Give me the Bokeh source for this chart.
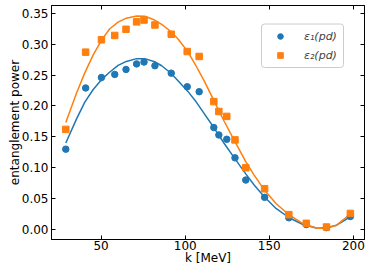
from bokeh.plotting import figure
from bokeh.models import (Range1d, LinearAxis, FixedTicker, NumeralTickFormatter, Legend,
                          LegendItem, BoxAnnotation)
from bokeh.embed import file_html
from bokeh.resources import INLINE

# measured points
k_data = [29.0, 40.8, 50.2, 58.1, 64.8, 71.1, 75.5, 82.0, 91.7, 101.2, 108.3,
          117.0, 120.0, 124.7, 129.6, 136.0, 147.2, 161.6, 172.0, 184.0, 198.2]
e1_data = [0.130, 0.229, 0.246, 0.251, 0.259, 0.268, 0.271, 0.265, 0.253, 0.231, 0.223,
           0.165, 0.153, 0.146, 0.116, 0.080, 0.052, 0.019, 0.008, 0.003, 0.021]
e2_data = [0.162, 0.287, 0.307, 0.314, 0.324, 0.336, 0.339, 0.331, 0.316, 0.288, 0.280,
           0.207, 0.191, 0.183, 0.145, 0.100, 0.066, 0.024, 0.010, 0.004, 0.026]

# fitted curves
k_fit = [29.0, 35.4, 40.3, 45.3, 50.2, 55.0, 60.1, 65.0, 71.1, 76.0, 81.8, 86.0, 91.7,
         96.0, 101.6, 106.0, 111.2, 117.0, 123.0, 129.4, 136.0, 141.0, 147.0, 154.0,
         161.8, 170.0, 178.4, 184.0, 190.0, 198.2]
e1_fit = [0.140, 0.179, 0.206, 0.2265, 0.2425, 0.2545, 0.2655, 0.272, 0.2765, 0.2765,
          0.2715, 0.265, 0.2525, 0.240, 0.2235, 0.2085, 0.188, 0.165, 0.140, 0.115,
          0.090, 0.072, 0.053, 0.034, 0.019, 0.008, 0.002, 0.003, 0.007, 0.0206]
e2_fit = [0.173, 0.221, 0.2535, 0.2825, 0.306, 0.3245, 0.3355, 0.342, 0.3455, 0.345,
          0.339, 0.332, 0.320, 0.3075, 0.2875, 0.267, 0.241, 0.209, 0.176, 0.143,
          0.110, 0.088, 0.064, 0.042, 0.0235, 0.0095, 0.002, 0.002, 0.007, 0.025]

legend_labels = ["ε₁(pd)", "ε₂(pd)"]
x_ticks = [50, 100, 150, 200]
y_ticks = [0.0, 0.05, 0.10, 0.15, 0.20, 0.25, 0.30, 0.35]

BLUE = "#1f77b4"
ORANGE = "#ff7f0e"
FONT = "DejaVu Sans"

p = figure(frame_width=313, frame_height=234,
           x_range=Range1d(20.5, 206.6), y_range=Range1d(-0.0162, 0.3625),
           output_backend="svg", toolbar_location=None,
           min_border_left=48, min_border_right=7, min_border_top=0, min_border_bottom=29)
p.margin = (5, 0, 0, 3)
p.grid.visible = False
p.outline_line_color = "black"
p.outline_line_width = 1
p.background_fill_color = "white"
p.border_fill_color = "white"


def style_axis(ax, ticks, show_labels):
    ax.ticker = FixedTicker(ticks=ticks)
    ax.major_tick_in = 4
    ax.major_tick_out = 0
    ax.minor_tick_in = 0
    ax.minor_tick_out = 0
    ax.major_tick_line_color = "black"
    ax.axis_line_color = "black"
    ax.major_label_text_font = FONT
    if show_labels:
        ax.major_label_text_color = "black"
        ax.major_label_text_font_size = "12px"
        ax.major_label_standoff = 3
    else:
        ax.major_label_text_color = None
        ax.major_label_text_font_size = "1px"
        ax.major_label_standoff = 0


xa = p.xaxis[0]
ya = p.yaxis[0]
style_axis(xa, x_ticks, True)
style_axis(ya, y_ticks, True)
xa.major_label_standoff = 1
ya.formatter = NumeralTickFormatter(format="0.00")
xa.axis_label = "k [MeV]"
ya.axis_label = "entanglement power"
for ax in (xa, ya):
    ax.axis_label_text_font = FONT
    ax.axis_label_text_font_size = "12px"
    ax.axis_label_text_font_style = "normal"
    ax.axis_label_text_color = "black"
xa.axis_label_standoff = -2
ya.axis_label_standoff = -3

top = LinearAxis()
right = LinearAxis()
style_axis(top, x_ticks, False)
style_axis(right, y_ticks, False)
p.add_layout(top, "above")
p.add_layout(right, "right")

p.line(k_fit, e1_fit, line_color=BLUE, line_width=1.5)
p.line(k_fit, e2_fit, line_color=ORANGE, line_width=1.5)
r1 = p.scatter(k_data, e1_data, marker="circle", size=6.5, fill_color=BLUE, line_color=BLUE)
r2 = p.scatter(k_data, e2_data, marker="square", size=6.5, fill_color=ORANGE, line_color=ORANGE)

# legend frame
frame_box = BoxAnnotation(left=210, right=292, bottom=172, top=215.5,
                          left_units="screen", right_units="screen",
                          bottom_units="screen", top_units="screen",
                          fill_color="white", fill_alpha=0.8,
                          line_color="#cccccc", line_width=1, line_alpha=1.0,
                          border_radius=3)
p.add_layout(frame_box)

legend = Legend(items=[LegendItem(label=legend_labels[0], renderers=[r1]),
                       LegendItem(label=legend_labels[1], renderers=[r2])],
                location=(219, 177), margin=0, padding=0, spacing=5,
                glyph_width=20, glyph_height=14, label_height=14, label_width=0,
                label_standoff=14,
                label_text_font=FONT, label_text_font_size="11px",
                label_text_font_style="italic",
                border_line_color=None, background_fill_alpha=0.0)
p.add_layout(legend, "center")

open("out.html", "w").write(file_html(p, INLINE))
